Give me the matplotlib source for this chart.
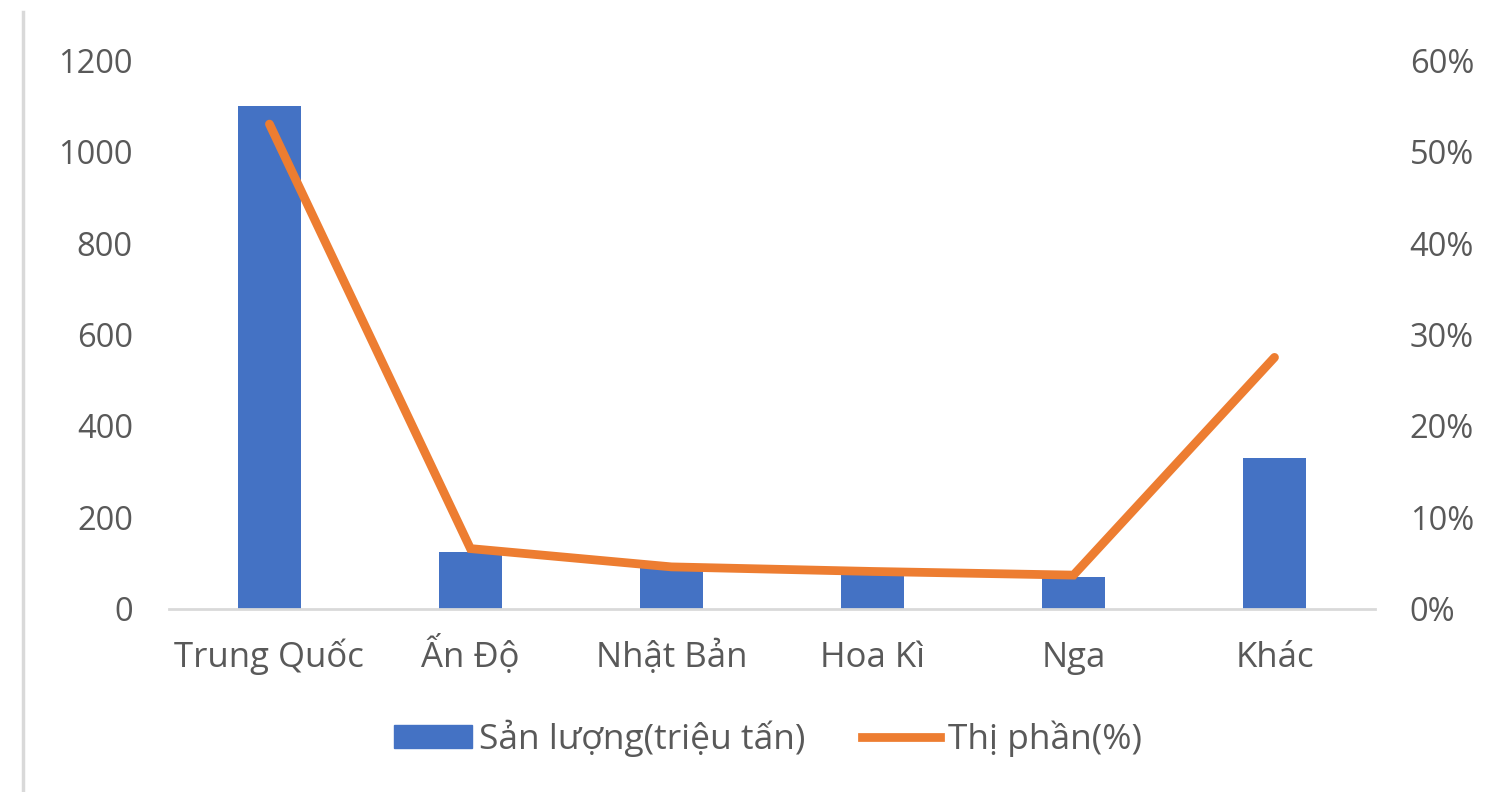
import matplotlib.pyplot as plt
from matplotlib.ticker import PercentFormatter
from matplotlib.lines import Line2D
from matplotlib.patches import Patch

# san luong va thi phan theo quoc gia
quoc_gia = ['Trung Quốc', 'Ấn Độ', 'Nhật Bản', 'Hoa Kì', 'Nga', 'Khác']
san_luong = [1100, 125, 90, 80, 70, 330]
thi_phan = [53.0, 6.6, 4.6, 4.1, 3.7, 27.5]

plt.rcParams['font.family'] = ['Open Sans', 'DejaVu Sans']
text_color = '#595959'

fig = plt.figure(figsize=(14.91, 7.92), dpi=100)
ax = fig.add_axes([0.1133, 0.2311, 0.8089, 0.6931])
x = range(len(quoc_gia))

ax.bar(x, san_luong, width=0.315, color='#4472C4', zorder=2)
ax.set_ylim(0, 1200)
ax.set_yticks(range(0, 1201, 200))
ax.set_xlim(-0.5, len(quoc_gia) - 0.5)
ax.set_xticks(list(x))
ax.set_xticklabels(quoc_gia, va='baseline')

ax2 = ax.twinx()
ax2.plot(x, thi_phan, color='#ED7D31', lw=6.3, solid_capstyle='round',
         solid_joinstyle='miter', zorder=3)
ax2.set_ylim(0, 60)
ax2.set_yticks(range(0, 61, 10))
ax2.yaxis.set_major_formatter(PercentFormatter(decimals=0))

for a in (ax, ax2):
    for s in a.spines.values():
        s.set_visible(False)
    a.tick_params(length=0, labelsize=23.5, labelcolor=text_color)
ax.tick_params(axis='y', pad=26)
ax2.tick_params(axis='y', pad=25)
ax.tick_params(axis='x', labelsize=25, pad=42)
ax.spines['bottom'].set_visible(True)
ax.spines['bottom'].set_color('#d9d9d9')
ax.spines['bottom'].set_linewidth(2)

# legend duoi bieu do
handles = [Patch(color='#4472C4'),
           Line2D([0], [0], color='#ED7D31', lw=6.3)]
fig.legend(handles, ['Sản lượng(triệu tấn)', 'Thị phần(%)'],
           loc='center', bbox_to_anchor=(0.515, 0.068), ncol=2, frameon=False,
           fontsize=25.5, labelcolor=text_color, handlelength=2.2,
           handleheight=0.6, handletextpad=0.22, columnspacing=1.6)

# vien trai
fig.add_artist(Line2D([0.0155, 0.0155], [0, 0.985], color='#d9d9d9', lw=2.5))

fig.savefig('out.png', dpi=100)
